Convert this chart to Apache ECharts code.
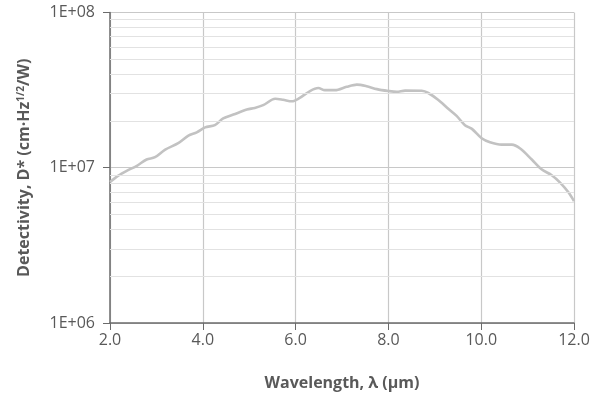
<!DOCTYPE html>
<html>
<head>
<meta charset="utf-8">
<script src="https://cdn.jsdelivr.net/npm/echarts@6/dist/echarts.min.js"></script>
<style>
  html, body { margin: 0; padding: 0; background: #fff; }
  #main { width: 598px; height: 396px; }
</style>
</head>
<body>
<div id="main"></div>
<script>
var myChart = echarts.init(document.getElementById('main'));

// wavelength (um) and detectivity
var wavelength = [2.0, 2.18, 2.36, 2.58, 2.79, 2.97, 3.19, 3.47, 3.69, 3.87, 4.05, 4.26, 4.44, 4.66, 4.95, 5.12, 5.30,
    5.56, 5.73, 5.92, 6.09, 6.31, 6.49, 6.63, 6.85, 7.10, 7.32, 7.53, 7.75, 8.0, 8.18, 8.36, 8.72, 8.86, 9.07,
    9.29, 9.47, 9.65, 9.80, 10.01, 10.19, 10.44, 10.66, 10.84, 11.09, 11.30, 11.52, 11.70, 11.88, 12.0];
var detectivity = [8.1e6, 8.9e6, 9.55e6, 1.03e7, 1.13e7, 1.17e7, 1.31e7, 1.44e7, 1.61e7, 1.69e7, 1.82e7, 1.88e7, 2.08e7,
    2.20e7, 2.37e7, 2.43e7, 2.53e7, 2.78e7, 2.74e7, 2.68e7, 2.82e7, 3.12e7, 3.26e7, 3.16e7, 3.16e7, 3.32e7, 3.43e7,
    3.35e7, 3.21e7, 3.12e7, 3.08e7, 3.14e7, 3.13e7, 3.03e7, 2.74e7, 2.40e7, 2.16e7, 1.88e7, 1.78e7, 1.55e7, 1.46e7,
    1.41e7, 1.41e7, 1.33e7, 1.13e7, 9.77e6, 8.95e6, 8.03e6, 6.95e6, 6.1e6];

// minor log grid lines
var minorGrid = [2e6, 3e6, 4e6, 5e6, 6e6, 7e6, 8e6, 9e6, 2e7, 3e7, 4e7, 5e7, 6e7, 7e7, 8e7, 9e7];

var pts = wavelength.map(function (x, i) { return [x, detectivity[i]]; });

var font = '"Open Sans", "Noto Sans", sans-serif';

var option = {
    animation: false,
    grid: { left: 110, right: 24, top: 12.5, bottom: 68 },
    xAxis: {
        type: 'value',
        min: 2, max: 12, interval: 2,
        name: 'Wavelength, λ (µm)',
        nameLocation: 'middle',
        nameGap: 52,
        nameTextStyle: { fontFamily: font, fontSize: 16, fontWeight: 'bold', color: '#595959' },
        axisLine: { lineStyle: { color: '#6b6b6b', width: 1.5 } },
        axisTick: { show: true, length: 7, lineStyle: { color: '#6b6b6b' } },
        axisLabel: {
            margin: 9, fontFamily: font, fontSize: 16, color: '#595959',
            formatter: function (v) { return v.toFixed(1); }
        },
        splitLine: { show: true, lineStyle: { color: '#c8c8c8', width: 1.2 } }
    },
    yAxis: {
        type: 'log',
        min: 1e6, max: 1e8, logBase: 10,
        name: '{t|Detectivity, D* (cm·Hz}{s|1/2}{t|/W)}',
        nameLocation: 'middle',
        nameGap: 77,
        nameRotate: 90,
        nameTextStyle: {
            rich: {
                t: { fontFamily: font, fontSize: 16, fontWeight: 'bold', color: '#595959' },
                s: { fontFamily: font, fontSize: 10, fontWeight: 'bold', color: '#595959', verticalAlign: 'top', padding: [0, 0, 7, 0] }
            }
        },
        axisLine: { show: true, lineStyle: { color: '#6b6b6b', width: 1.5 } },
        axisTick: { show: true, length: 7, lineStyle: { color: '#6b6b6b' } },
        axisLabel: {
            margin: 15, fontFamily: font, fontSize: 16, color: '#595959',
            formatter: function (v) { return '1E+0' + Math.round(Math.log10(v)); }
        },
        splitLine: { show: true, lineStyle: { color: '#c8c8c8', width: 1.2 } }
    },
    series: [
        {
            type: 'line',
            data: [],
            silent: true,
            markLine: {
                silent: true,
                symbol: 'none',
                label: { show: false },
                lineStyle: { color: '#e2e2e2', type: 'solid', width: 1.2 },
                data: minorGrid.map(function (v) { return { yAxis: v }; })
            }
        },
        {
            type: 'line',
            data: pts,
            smooth: 0.3,
            showSymbol: false,
            lineStyle: { color: '#c2c2c2', width: 2.6 }
        }
    ]
};
myChart.setOption(option);
</script>
</body>
</html>
